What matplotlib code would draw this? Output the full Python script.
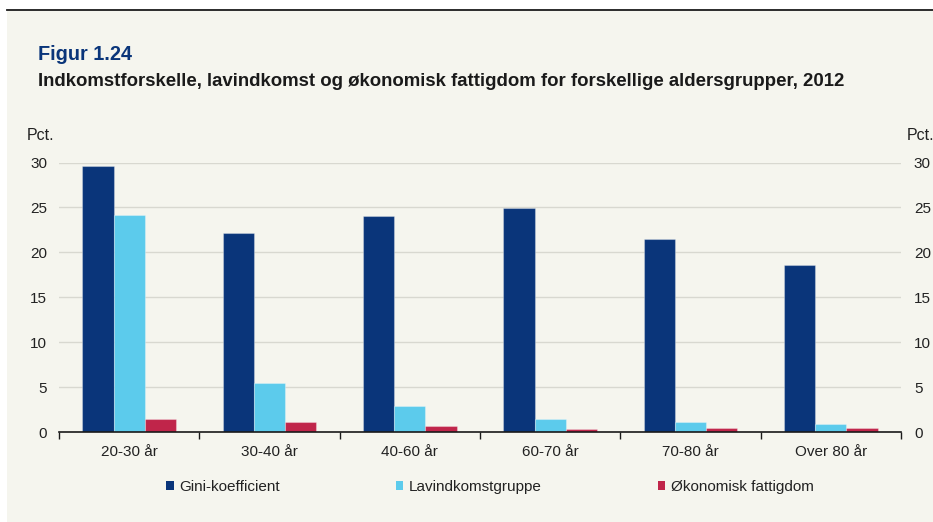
import matplotlib
matplotlib.use('Agg')
import matplotlib.pyplot as plt
import numpy as np
from matplotlib.patches import Rectangle

# data
groups = ['20-30 år', '30-40 år', '40-60 år', '60-70 år', '70-80 år', 'Over 80 år']
gini = [29.6, 22.1, 24.1, 24.9, 21.5, 18.6]
lavindkomst = [24.2, 5.4, 2.85, 1.5, 1.08, 0.93]
fattigdom = [1.5, 1.08, 0.67, 0.33, 0.45, 0.4]
series_names = ['Gini-koefficient', 'Lavindkomstgruppe', 'Økonomisk fattigdom']
yticks = [0, 5, 10, 15, 20, 25, 30]

colors = ['#0a357a', '#5ccbec', '#c0254a']
bg = '#f5f5ee'
txt = '#222222'
fs = 11

plt.rcParams['font.family'] = ['Liberation Sans', 'DejaVu Sans']

W, H = 933, 522
fig = plt.figure(figsize=(W / 100, H / 100), dpi=100)
fig.patch.set_facecolor('white')

# beige panel and black top rule
fig.patches.append(Rectangle((7 / W, 0), 1, 1 - 11 / H, transform=fig.transFigure,
                             facecolor=bg, edgecolor='none', zorder=-10))
fig.add_artist(plt.Line2D([7 / W, 1], [1 - 10 / H, 1 - 10 / H], transform=fig.transFigure,
                          color='#1a1a1a', linewidth=1.3))

fig.text(38 / W, 1 - 54 / H, 'Figur 1.24', color='#0a357a', fontsize=14.3,
         fontweight='bold', va='center', ha='left')
fig.text(38 / W, 1 - 82 / H, 'Indkomstforskelle, lavindkomst og økonomisk fattigdom for forskellige aldersgrupper, 2012',
         color='#1a1a1a', fontsize=13.4, fontweight='bold', va='center', ha='left')

left, right, top, bottom = 59, 901, 162.5, 432
ax = fig.add_axes([left / W, 1 - bottom / H, (right - left) / W, (bottom - top) / H])
ax.set_facecolor('none')

x = np.arange(len(groups))
bw = 0.222
for i, vals in enumerate([gini, lavindkomst, fattigdom]):
    ax.bar(x + (i - 1) * bw, vals, width=bw, color=colors[i], label=series_names[i],
           edgecolor=(1, 1, 1, 0.3), linewidth=0.8, zorder=3)

ax.set_xlim(-0.5, len(groups) - 0.5)
ax.set_ylim(0, 30)
ax.set_yticks(yticks)
ax.grid(axis='y', color='#d8d8d0', linewidth=1, zorder=0)
ax.set_axisbelow(True)
for s in ['top', 'left', 'right']:
    ax.spines[s].set_visible(False)
ax.spines['bottom'].set_color('#1a1a1a')
ax.spines['bottom'].set_linewidth(1.2)
ax.spines['bottom'].set_zorder(4)

ax.set_xticks(x)
ax.set_xticklabels(groups, fontsize=fs, color=txt)
ax.tick_params(axis='x', which='major', length=0, pad=9)
ax.set_xticks(np.arange(-0.5, len(groups)), minor=True)
ax.tick_params(axis='x', which='minor', length=5, width=1, color='#1a1a1a', direction='out')
ax.tick_params(axis='y', length=0, labelsize=fs, labelcolor=txt, pad=8.6)

# right-hand axis mirrors the left one
ax2 = ax.twinx()
ax2.set_ylim(ax.get_ylim())
ax2.set_yticks(yticks)
ax2.tick_params(axis='y', length=0, labelsize=fs, labelcolor=txt, pad=9.3)
for s in ax2.spines.values():
    s.set_visible(False)

fig.text(27 / W, 1 - 135 / H, 'Pct.', fontsize=11.5, color=txt, va='center', ha='left')
fig.text(907 / W, 1 - 135 / H, 'Pct.', fontsize=11.5, color=txt, va='center', ha='left')

leg = ax.legend(loc='center left', bbox_to_anchor=((160 - left) / (right - left), -55 / (bottom - top)),
                ncol=3, frameon=False, fontsize=fs, handlelength=0.5, handleheight=0.5,
                handletextpad=0.35, columnspacing=7.6, borderaxespad=0)
for t in leg.get_texts():
    t.set_color(txt)
for hnd in leg.legend_handles:
    hnd.set_edgecolor('none')

fig.savefig('out.png', dpi=100, facecolor=fig.get_facecolor())
